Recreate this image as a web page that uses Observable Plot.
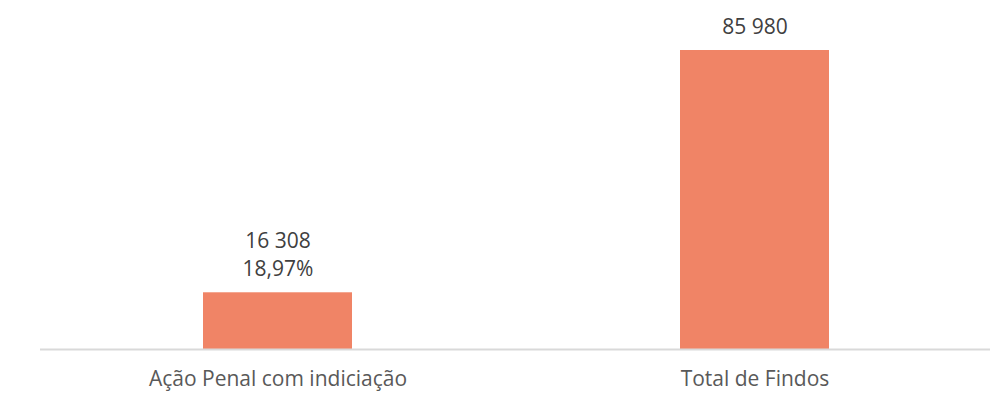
<!DOCTYPE html>
<html>
<head>
<meta charset="utf-8">
<script src="https://cdn.jsdelivr.net/npm/d3@7"></script>
<script src="https://cdn.jsdelivr.net/npm/@observablehq/plot@0.6"></script>
<style>
  html, body { margin: 0; padding: 0; background: #ffffff; }
  #chart svg { display: block; }
</style>
</head>
<body>
<div id="chart"></div>
<script>
const categories = ["Ação Penal com indiciação", "Total de Findos"];
const values = [16308, 85980];
const shares = ["18,97%", ""];

const data = categories.map((c, i) => ({
  category: c,
  value: values[i],
  label: d3.format(",")(values[i]).replace(/,/g, " ") + (shares[i] ? "\n" + shares[i] : "")
}));

const font = "'Open Sans', 'Noto Sans', sans-serif";

const chart = Plot.plot({
  width: 1008,
  height: 405,
  marginLeft: 39,
  marginRight: 15,
  marginTop: 50,
  marginBottom: 56,
  style: { fontFamily: font, fontSize: "21px", color: "#595959", background: "#ffffff" },
  x: { domain: categories, paddingInner: 0.6876, paddingOuter: 0.3438, label: null },
  y: { domain: [0, d3.max(values)], axis: null },
  marks: [
    Plot.barY(data, { x: "category", y: "value", fill: "#F08466" }),
    Plot.ruleY([0], { stroke: "#d9d9d9", strokeWidth: 2, insetLeft: 1, insetRight: 3 }),
    Plot.text(data, {
      x: "category", y: "value", text: "label",
      lineAnchor: "bottom", dy: -17, lineHeight: 1.33,
      fill: "#404040", fontSize: 21
    }),
    Plot.axisX({ tickSize: 0, tickPadding: 22, label: null, fontSize: 21, fill: "#595959" })
  ]
});

document.getElementById("chart").appendChild(chart);
</script>
</body>
</html>
